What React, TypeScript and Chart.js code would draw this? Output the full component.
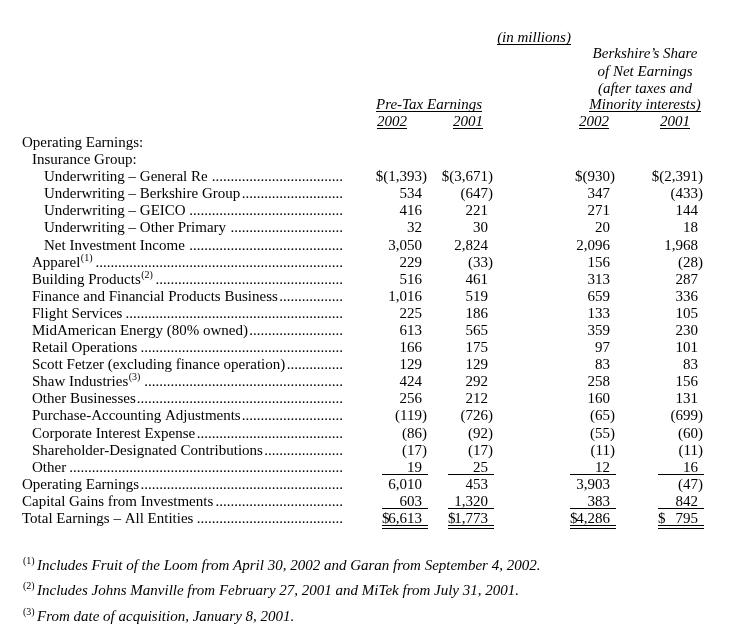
import React, { useEffect, useRef } from "react";
import { Chart, registerables } from "chart.js";

Chart.register(...registerables);

// ---------- data ----------
const rowLabels = [
  "Operating Earnings:",
  "Insurance Group:",
  "Underwriting – General Re",
  "Underwriting – Berkshire Group",
  "Underwriting – GEICO",
  "Underwriting – Other Primary",
  "Net Investment Income",
  "Apparel",
  "Building Products",
  "Finance and Financial Products Business",
  "Flight Services",
  "MidAmerican Energy (80% owned)",
  "Retail Operations",
  "Scott Fetzer (excluding finance operation)",
  "Shaw Industries",
  "Other Businesses",
  "Purchase-Accounting Adjustments",
  "Corporate Interest Expense",
  "Shareholder-Designated Contributions",
  "Other",
  "Operating Earnings",
  "Capital Gains from Investments",
  "Total Earnings – All Entities",
];
const rowNotes = ["", "", "", "", "", "", "", "(1)", "(2)", "", "", "", "", "", "(3)", "", "", "", "", "", "", "", ""];

const pretax2002 = [null, null, -1393, 534, 416, 32, 3050, 229, 516, 1016, 225, 613, 166, 129, 424, 256, -119, -86, -17, 19, 6010, 603, 6613];
const pretax2001 = [null, null, -3671, -647, 221, 30, 2824, -33, 461, 519, 186, 565, 175, 129, 292, 212, -726, -92, -17, 25, 453, 1320, 1773];
const share2002 = [null, null, -930, 347, 271, 20, 2096, 156, 313, 659, 133, 359, 97, 83, 258, 160, -65, -55, -11, 12, 3903, 383, 4286];
const share2001 = [null, null, -2391, -433, 144, 18, 1968, -28, 287, 336, 105, 230, 101, 83, 156, 131, -699, -60, -11, 16, -47, 842, 795];

const seriesNames = ["Pre-Tax Earnings 2002", "Pre-Tax Earnings 2001", "Berkshire's Share 2002", "Berkshire's Share 2001"];
const yearLabels = ["2002", "2001", "2002", "2001"];

const unitsTitle = "(in millions)";
const preTaxTitle = "Pre-Tax Earnings";
const shareTitle = ["Berkshire’s Share", "of Net Earnings", "(after taxes and", "Minority interests)"];

const footnoteMarks = ["(1)", "(2)", "(3)"];
const footnoteTexts = [
  "Includes Fruit of the Loom from April 30, 2002 and Garan from September 4, 2002.",
  "Includes Johns Manville from February 27, 2001 and MiTek from July 31, 2001.",
  "From date of acquisition, January 8, 2001.",
];

// ---------- layout / style ----------
const W = 745;
const H = 634;
const FONT = '"Liberation Serif", "Times New Roman", Times, serif';
const rowIndent = [0, 1, 2, 2, 2, 2, 2, 1, 1, 1, 1, 1, 1, 1, 1, 1, 1, 1, 1, 1, 0, 0, 0];
const indentPx = [22, 32, 44];
const leaderEnd = 343;
const COL_X = [422, 488, 610, 698];
const YEAR_X = [392, 468, 594, 675];
const PRETAX_X = 429;
const SHARE_X = 645;
const UNITS_X = 534;
const rules: Record<number, number> = { 19: 1, 21: 1, 22: 2 };

const series = [pretax2002, pretax2001, share2002, share2001];

function fmt(v: number) {
  const a = Math.abs(v).toLocaleString("en-US");
  return v < 0 ? `(${a})` : a;
}

const tablePlugin = {
  id: "tableText",
  afterDatasetsDraw(chart: any) {
    const ctx: CanvasRenderingContext2D = chart.ctx;
    const ys = chart.scales.y;
    const xs = chart.scales.x;
    const rowPx = (i: number) => ys.getPixelForValue(i);
    const B = 5; // baseline offset from row centre
    ctx.save();
    ctx.fillStyle = "#000";

    const underlineCentered = (text: string, cx: number, cy: number, font: string) => {
      ctx.font = font;
      ctx.textAlign = "center";
      ctx.fillText(text, cx, cy + B);
      const w = ctx.measureText(text).width;
      ctx.fillRect(Math.round(cx - w / 2), Math.round(cy + B + 2), Math.round(w), 1);
    };

    // row labels with leaders
    rowLabels.forEach((lab, i) => {
      const cy = rowPx(i);
      const lx = indentPx[rowIndent[i]];
      ctx.font = `15px ${FONT}`;
      ctx.textAlign = "left";
      ctx.fillText(lab, lx, cy + B);
      let end = lx + ctx.measureText(lab).width;
      if (rowNotes[i]) {
        ctx.font = `10px ${FONT}`;
        ctx.fillText(rowNotes[i], end + 0.5, cy + B - 6);
        end += ctx.measureText(rowNotes[i]).width + 0.5;
      }
      if (series[0][i] != null) {
        ctx.font = `15px ${FONT}`;
        const dw = ctx.measureText(".").width;
        const n = Math.floor((leaderEnd - end - 1) / dw);
        if (n > 0) {
          ctx.textAlign = "right";
          ctx.fillText(".".repeat(n), leaderEnd, cy + B);
        }
      }
    });

    // values, positioned through the chart's scales
    ctx.font = `15px ${FONT}`;
    const parenW = ctx.measureText(")").width;
    chart.data.datasets.forEach((ds: any, di: number) => {
      ds.data.forEach((pt: any) => {
        const i = pt.y;
        const v = pt.v;
        const px = xs.getPixelForValue(pt.x);
        const py = ys.getPixelForValue(pt.y);
        ctx.font = `15px ${FONT}`;
        let s = fmt(v);
        const last = i === rowLabels.length - 1;
        if (i === 2) s = "$" + s;
        if (last) {
          ctx.textAlign = "left";
          ctx.fillText("$", px - 40, py + B);
        }
        ctx.textAlign = "right";
        ctx.fillText(s, px + (v < 0 ? parenW : 0), py + B);
        const r = rules[i];
        if (r) {
          const x0 = Math.round(px - 40);
          const x1 = Math.round(px + 6);
          ctx.fillRect(x0, Math.round(py + 7), x1 - x0, 1);
          if (r === 2) ctx.fillRect(x0, Math.round(py + 10), x1 - x0, 1);
        }
      });
    });

    // headers
    const top = rowPx(0);
    const it = `italic 15px ${FONT}`;
    underlineCentered(unitsTitle, UNITS_X, top - 105, it);
    const shareY = [top - 89, top - 71, top - 54, top - 38];
    shareTitle.forEach((t, k) => {
      if (k === shareTitle.length - 1) underlineCentered(t, SHARE_X, shareY[k], it);
      else {
        ctx.font = it;
        ctx.textAlign = "center";
        ctx.fillText(t, SHARE_X, shareY[k] + B);
      }
    });
    underlineCentered(preTaxTitle, PRETAX_X, top - 38, it);
    yearLabels.forEach((t, k) => underlineCentered(t, YEAR_X[k], top - 21, it));

    // footnotes
    const bottom = rowPx(rowLabels.length - 1);
    const fy = [bottom + 47, bottom + 72, bottom + 98];
    footnoteTexts.forEach((t, k) => {
      ctx.textAlign = "left";
      ctx.font = `10px ${FONT}`;
      ctx.fillText(footnoteMarks[k], 23, fy[k] + B - 6);
      ctx.font = it;
      ctx.fillText(t, 37, fy[k] + B);
    });

    ctx.restore();
  },
};

export default function App() {
  const ref = useRef<HTMLCanvasElement | null>(null);
  useEffect(() => {
    if (!ref.current) return;
    const chart = new Chart(ref.current, {
      type: "scatter",
      data: {
        datasets: series.map((vals, k) => ({
          label: seriesNames[k],
          data: vals
            .map((v, i) => (v == null ? null : { x: COL_X[k], y: i, v }))
            .filter((p) => p !== null) as any,
          pointRadius: 0,
          showLine: false,
        })),
      },
      options: {
        animation: false,
        responsive: false,
        devicePixelRatio: 1,
        events: [],
        layout: { padding: { top: 142, bottom: 116, left: 0, right: 0 } },
        scales: {
          x: { type: "linear", min: 0, max: W, display: false },
          y: { type: "linear", min: 0, max: rowLabels.length - 1, reverse: true, display: false },
        },
        plugins: { legend: { display: false }, tooltip: { enabled: false } },
      },
      plugins: [tablePlugin],
    });
    return () => chart.destroy();
  }, []);
  return (
    <div style={{ position: "fixed", left: 0, top: 0, width: W, height: H, background: "#fff" }}>
      <canvas ref={ref} width={W} height={H} style={{ display: "block" }} />
    </div>
  );
}
